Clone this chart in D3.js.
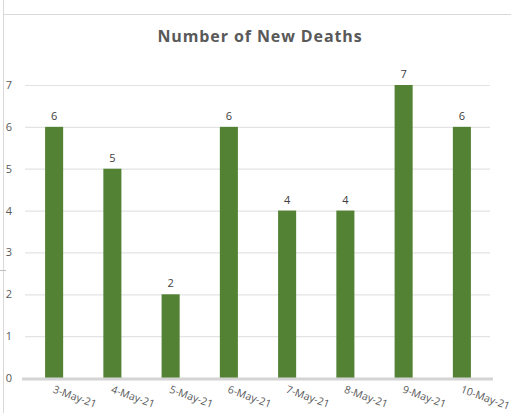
<!DOCTYPE html>
<html><head><meta charset="utf-8">
<script src="https://cdn.jsdelivr.net/npm/d3@7"></script>
<style>body{margin:0;background:#fff;} svg{display:block;font-family:"Open Sans","Noto Sans",sans-serif;}</style>
</head><body>
<svg id="c" width="511" height="413"></svg>
<script>
const categories = ["3-May-21","4-May-21","5-May-21","6-May-21","7-May-21","8-May-21","9-May-21","10-May-21"];
const deaths = [6,5,2,6,4,4,7,6];
const yTicks = [0,1,2,3,4,5,6,7];
const title = "Number of New Deaths";

const svg = d3.select("#c");
const W = 511, H = 413;
const x = d3.scaleBand().domain(categories).range([25, 491]).paddingInner(0.69).paddingOuter(0.345);
const y = d3.scaleLinear().domain([0,7]).range([378, 85]);

// frame lines
svg.append("line").attr("x1",3).attr("x2",W).attr("y1",14.5).attr("y2",14.5).attr("stroke","#d9d9d9").attr("stroke-width",1);
svg.append("line").attr("x1",3.5).attr("x2",3.5).attr("y1",0).attr("y2",H).attr("stroke","#d9d9d9").attr("stroke-width",1);
svg.append("line").attr("x1",0).attr("x2",6).attr("y1",270.5).attr("y2",270.5).attr("stroke","#bfbfbf").attr("stroke-width",1);

// title
svg.append("text").attr("x",260).attr("y",42).attr("text-anchor","middle")
  .attr("font-size",16).attr("font-weight",700).attr("letter-spacing",0.9).attr("fill","#595959").text(title);

// gridlines
const grid = svg.append("g").attr("transform","translate(25,0)")
  .call(d3.axisLeft(y).tickValues(yTicks.filter(d=>d>0)).tickSize(-(490-25)).tickFormat(""));
grid.select(".domain").remove();
grid.selectAll("line").attr("stroke","#e3e3e3").attr("stroke-width",1.2);

// y tick labels
svg.append("g").selectAll("text").data(yTicks).join("text")
  .attr("x",9).attr("y",d=>y(d)+4).attr("text-anchor","middle")
  .attr("font-size",11).attr("fill","#595959").text(d=>d);

// bars
svg.append("g").selectAll("rect").data(deaths).join("rect")
  .attr("x",(d,i)=>x(categories[i])).attr("width",x.bandwidth())
  .attr("y",d=>y(d)).attr("height",d=>y(0)-y(d)).attr("fill","#548235");

// value labels
svg.append("g").selectAll("text").data(deaths).join("text")
  .attr("x",(d,i)=>x(categories[i])+x.bandwidth()/2).attr("y",d=>y(d)-7)
  .attr("text-anchor","middle").attr("font-size",11).attr("fill","#404040").text(d=>d);

// x axis line
svg.append("line").attr("x1",22).attr("x2",493).attr("y1",379).attr("y2",379)
  .attr("stroke","#d4d4d4").attr("stroke-width",3);

// x labels
const xa = svg.append("g").attr("transform","translate(0,381)")
  .call(d3.axisBottom(x).tickSize(0).tickPadding(0));
xa.select(".domain").remove();
xa.selectAll("text").attr("font-size",10.5).attr("fill","#595959")
  .attr("text-anchor","start").attr("dy",0)
  .attr("transform","translate(0,12) rotate(20)").attr("x",-2).attr("y",0)
  .style("font-family","'Open Sans','Noto Sans',sans-serif");
</script>
</body></html>
